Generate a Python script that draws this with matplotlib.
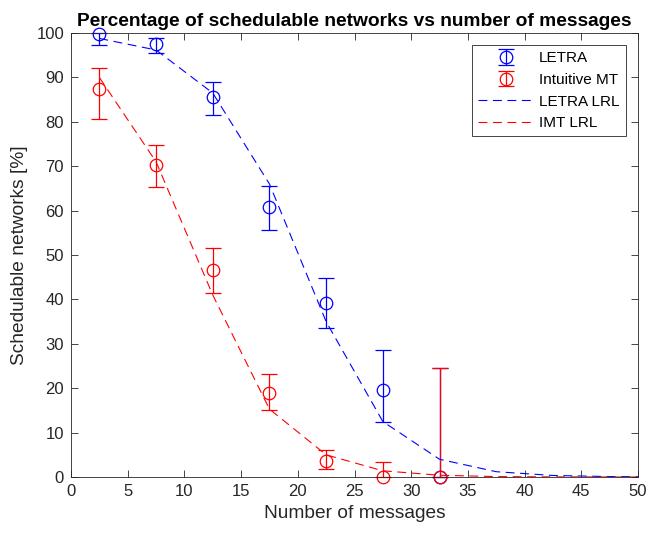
import numpy as np
import matplotlib.pyplot as plt

plt.rcParams['font.family'] = ['Liberation Sans', 'DejaVu Sans']

# bin centres (number of messages)
msgs = [2.5, 7.5, 12.5, 17.5, 22.5, 27.5, 32.5]

# LETRA: schedulable share and interval bounds [%]
letra = [99.8, 97.5, 85.5, 60.8, 39.2, 19.6, 0.0]
letra_lo = [97.3, 95.6, 81.6, 55.6, 33.6, 12.3, 0.0]
letra_hi = [100.0, 99.0, 88.9, 65.6, 44.8, 28.6, 24.6]

# Intuitive MT
imt = [87.4, 70.3, 46.6, 19.0, 3.6, 0.0, 0.0]
imt_lo = [80.7, 65.3, 41.5, 15.2, 1.8, 0.0, 0.0]
imt_hi = [92.2, 74.9, 51.6, 23.1, 6.1, 3.3, 24.6]

# logistic regression fits
lrl_x = [2.5, 7.5, 12.5, 17.5, 22.5, 27.5, 32.5, 37.5, 42.5, 47.5, 52.5]
letra_lrl = [98.8, 96.2, 86.5, 66.0, 35.0, 12.5, 4.0, 1.2, 0.35, 0.1, 0.03]
imt_lrl = [90.0, 71.0, 41.0, 15.3, 5.0, 1.4, 0.4, 0.1, 0.03, 0.01, 0.0]

axcol = '#262626'

fig = plt.figure(figsize=(6.62, 5.34), dpi=100)
ax = fig.add_axes([0.1073, 0.1067, 0.8564, 0.8313])


def draw_err(x, y, lo, hi, color, label):
    y = np.array(y)
    err = [y - np.array(lo), np.array(hi) - y]
    h = ax.errorbar(x, y, yerr=err, fmt='o', color=color, mfc='none', ms=9,
                    mew=0.9, elinewidth=0.9, capsize=5.5, capthick=0.9,
                    label=label)
    for art in h.get_children():
        art.set_clip_on(False)
    return h


h1 = draw_err(msgs, letra, letra_lo, letra_hi, 'blue', 'LETRA')
h2 = draw_err(msgs, imt, imt_lo, imt_hi, 'red', 'Intuitive MT')
h3, = ax.plot(lrl_x, letra_lrl, color='blue', lw=0.8, ls=(0, (8, 5)), label='LETRA LRL')
h4, = ax.plot(lrl_x, imt_lrl, color='red', lw=0.8, ls=(0, (8, 5)), label='IMT LRL')

ax.set_xlim(0, 50)
ax.set_ylim(0, 100)
ax.set_xticks(np.arange(0, 51, 5))
ax.set_yticks(np.arange(0, 101, 10))
ax.tick_params(direction='in', top=True, right=True, length=5, width=0.6,
               colors=axcol, labelsize=12, pad=5)
for s in ax.spines.values():
    s.set_color(axcol)
    s.set_linewidth(0.6)

ax.set_xlabel('Number of messages', fontsize=13.8, color=axcol, labelpad=4)
ax.set_ylabel('Schedulable networks [%]', fontsize=13.8, color=axcol, labelpad=6)
ax.set_title('Percentage of schedulable networks vs number of messages',
             fontsize=13.8, fontweight='bold', pad=5)

leg = ax.legend([h1, h2, h3, h4], ['LETRA', 'Intuitive MT', 'LETRA LRL', 'IMT LRL'],
                loc='upper right', fontsize=11, fancybox=False, framealpha=1,
                edgecolor=axcol, borderaxespad=0.8, handlelength=3.6,
                handletextpad=0.4, borderpad=0.4)
leg.get_frame().set_linewidth(0.6)

plt.savefig('out.png', dpi=100)
